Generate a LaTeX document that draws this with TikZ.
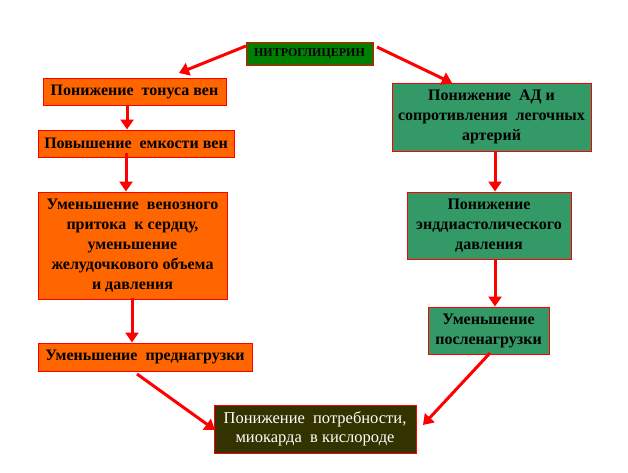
\documentclass[tikz,border=0pt]{standalone}
\usepackage{fontspec}
\setmainfont{Liberation Serif}
\usetikzlibrary{arrows.meta}
\definecolor{orangebox}{HTML}{FF6600}
\definecolor{greenbox}{HTML}{339966}
\definecolor{topgreen}{HTML}{008000}
\definecolor{darkbox}{HTML}{333300}
\tikzset{
  box/.style={draw=red, line width=1pt, inner sep=0pt, align=center, font=\fontsize{16}{20}\selectfont\bfseries, text=black},
  obox/.style={box, fill=orangebox},
  gbox/.style={box, fill=greenbox},
  arr/.style={draw=red, line width=3pt, -{Triangle[length=10pt,width=13pt]}},
}
\begin{document}
\begin{tikzpicture}[x=1pt,y=-1pt]
\useasboundingbox (0,0) rectangle (628,472);
\fill[white] (0,0) rectangle (628,472);
\node[box, fill=topgreen, minimum width=127pt, minimum height=23pt, font=\fontsize{12}{14}\selectfont\bfseries] (top) at (309.5,53.5) {НИТРОГЛИЦЕРИН};
\node[obox, minimum width=183pt, minimum height=27pt] (L1) at (134.5,91.5) {Понижение\ \ тонуса вен};
\node[obox, minimum width=196pt, minimum height=27pt] (L2) at (136,143.5) {Повышение\ \ емкости вен};
\node[obox, minimum width=189pt, minimum height=107pt] (L3) at (132.5,245.5) {Уменьшение\ \ венозного\\притока\ \ к сердцу,\\уменьшение\\желудочкового объема\\и давления};
\node[obox, minimum width=214pt, minimum height=28pt] (L4) at (145,357) {Уменьшение\ \ преднагрузки};
\node[gbox, minimum width=199pt, minimum height=68pt] (R1) at (491.5,117) {Понижение\ \ АД и\\сопротивления\ \ легочных\\артерий};
\node[gbox, minimum width=164pt, minimum height=67pt] (R2) at (489,225.5) {Понижение\\энддиастолического\\давления};
\node[gbox, minimum width=121pt, minimum height=47pt] (R3) at (488.5,330.5) {Уменьшение\\посленагрузки};
\node[box, fill=darkbox, text=white, minimum width=202pt, minimum height=48pt, font=\fontsize{16.5}{19.5}\selectfont] (B) at (315,429) {Понижение\ \ потребности,\\миокарда\ \ в кислороде};
% coordinates for connector ends
\coordinate (xl1) at (127,0);
\coordinate (xl2) at (126,0);
\coordinate (xl3) at (132,0);
\coordinate (xr) at (495,0);
\coordinate (t1s) at (246,46);
\coordinate (t1e) at (179,73);
\coordinate (t2s) at (377,47);
\coordinate (t2e) at (452,83);
\coordinate (b1s) at (137,374);
\coordinate (b1e) at (215,430);
\coordinate (b2s) at (490,353);
\coordinate (b2e) at (423,425);
\draw[arr] (t1s) -- (t1e);
\draw[arr] (t2s) -- (t2e);
\draw[arr] (L1.south -| xl1) -- (L2.north -| xl1);
\draw[arr] ([yshift=5pt]L2.south -| xl2) -- (L3.north -| xl2);
\draw[arr] ([yshift=2pt]L3.south -| xl3) -- (L4.north -| xl3);
\draw[arr] (R1.south -| xr) -- (R2.north -| xr);
\draw[arr] (R2.south -| xr) -- (R3.north -| xr);
\draw[arr] (b1s) -- (b1e);
\draw[arr] (b2s) -- (b2e);
\end{tikzpicture}
\end{document}
